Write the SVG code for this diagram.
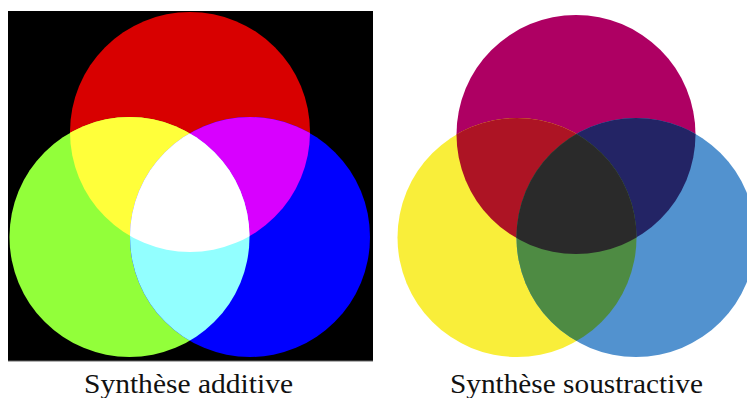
<svg xmlns="http://www.w3.org/2000/svg" width="747" height="398" viewBox="0 0 747 398">
<style>
  .lbl { font-family: "Liberation Serif", "DejaVu Serif", serif; font-size: 27px; fill: #111; }
</style>
<defs>
  <clipPath id="cR"><circle cx="190" cy="132" r="120"/></clipPath>
  <clipPath id="cG"><circle cx="129.5" cy="237" r="120"/></clipPath>
  <clipPath id="cB"><circle cx="250" cy="237" r="120"/></clipPath>
  <clipPath id="cM"><circle cx="576" cy="134.5" r="119.5"/></clipPath>
  <clipPath id="cY"><circle cx="517" cy="237.5" r="119.5"/></clipPath>
  <clipPath id="cC"><circle cx="636" cy="237.5" r="119.5"/></clipPath>
</defs>
<rect width="747" height="398" fill="#fff"/>
<g id="additive">
  <rect x="8" y="11" width="365" height="350" fill="#000"/>
  <line x1="8" y1="361" x2="373" y2="361" stroke="#666" stroke-width="1"/>
  <circle cx="190" cy="132" r="120" fill="#D80000"/>
  <circle cx="129.5" cy="237" r="120" fill="#92FF3A"/>
  <circle cx="250" cy="237" r="120" fill="#0000FF"/>
  <g clip-path="url(#cR)">
    <circle cx="129.5" cy="237" r="120" fill="#FFFF3A"/>
    <circle cx="250" cy="237" r="120" fill="#D800FF"/>
  </g>
  <g clip-path="url(#cG)">
    <circle cx="250" cy="237" r="120" fill="#92FFFF"/>
    <g clip-path="url(#cR)"><circle cx="250" cy="237" r="120" fill="#FFFFFF"/></g>
  </g>
  <text class="lbl" x="84" y="393" textLength="209" lengthAdjust="spacingAndGlyphs">Synthèse additive</text>
</g>
<g id="subtractive">
  <circle cx="576" cy="134.5" r="119.5" fill="#AE0063"/>
  <circle cx="517" cy="237.5" r="119.5" fill="#F9EE3A"/>
  <circle cx="636" cy="237.5" r="119.5" fill="#5292CF"/>
  <g clip-path="url(#cM)">
    <circle cx="517" cy="237.5" r="119.5" fill="#AD1424"/>
    <circle cx="636" cy="237.5" r="119.5" fill="#232465"/>
  </g>
  <g clip-path="url(#cY)">
    <circle cx="636" cy="237.5" r="119.5" fill="#4E8B43"/>
    <g clip-path="url(#cM)"><circle cx="636" cy="237.5" r="119.5" fill="#2A2A2A"/></g>
  </g>
  <text class="lbl" x="450" y="393" textLength="253" lengthAdjust="spacingAndGlyphs">Synthèse soustractive</text>
</g>
</svg>
